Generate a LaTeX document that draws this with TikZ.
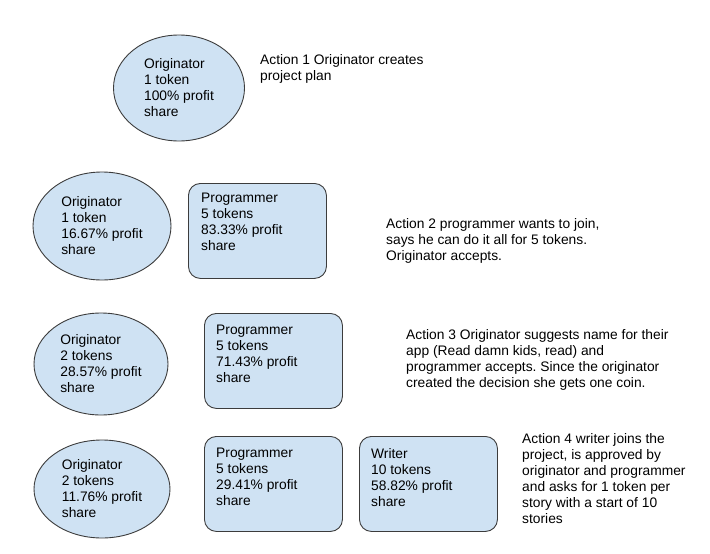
\documentclass[tikz,border=0pt]{standalone}
\usepackage{fontspec}
\setmainfont{Liberation Sans}
\usetikzlibrary{shapes.geometric}
\frenchspacing

\definecolor{tokenblue}{HTML}{CFE2F3}
\definecolor{edgegray}{HTML}{3C3C3C}

\tikzset{
  member/.style={ellipse, draw=edgegray, fill=tokenblue, line width=0.9pt, align=left, inner sep=0pt},
  card/.style={draw=edgegray, fill=tokenblue, line width=0.9pt, rounded corners=12pt,
    minimum width=138pt, minimum height=95pt, anchor=north west},
  note/.style={anchor=north west, align=left, inner sep=0pt}
}

\begin{document}
\begin{tikzpicture}[x=1pt,y=-1pt,font=\fontsize{13.8}{16}\selectfont]
\useasboundingbox (0,0) rectangle (710,554);

% action 1
\node[member, minimum width=131pt, minimum height=106pt] (orig1) at (179,88)
  {Originator\\1 token\\100\% profit\\share};
\node[note] (act1) at (260,54) {Action 1 Originator creates\\project plan};

% action 2
\node[member, minimum width=138pt, minimum height=108pt] (orig2) at (102,226)
  {Originator\\1 token\\16.67\% profit\\share};
\node[card] (prog2) at (188,183) {};
\node[note] (prog2txt) at (201,193) {Programmer\\5 tokens\\83.33\% profit\\share};
\node[note] (act2) at (386,218)
  {Action 2 programmer wants to join,\\says he can do it all for 5 tokens.\\Originator accepts.};

% action 3
\node[member, minimum width=134pt, minimum height=102pt] (orig3) at (101,364)
  {Originator\\2 tokens\\28.57\% profit\\share};
\node[card] (prog3) at (204,313) {};
\node[note] (prog3txt) at (216,325) {Programmer\\5 tokens\\71.43\% profit\\share};
\node[note] (act3) at (406,329)
  {Action 3 Originator suggests name for their\\app (Read damn kids, read) and\\programmer accepts. Since the originator\\created the decision she gets one coin.};

% action 4
\node[member, minimum width=136pt, minimum height=98pt] (orig4) at (102,489)
  {Originator\\2 tokens\\11.76\% profit\\share};
\node[card] (prog4) at (204,436) {};
\node[note] (prog4txt) at (216,448) {Programmer\\5 tokens\\29.41\% profit\\share};
\node[card] (writer4) at (359,436) {};
\node[note] (writer4txt) at (371,448) {Writer\\10 tokens\\58.82\% profit\\share};
\node[note] (act4) at (522,433)
  {Action 4 writer joins the\\project, is approved by\\originator and programmer\\and asks for 1 token per\\story with a start of 10\\stories};

\end{tikzpicture}
\end{document}
